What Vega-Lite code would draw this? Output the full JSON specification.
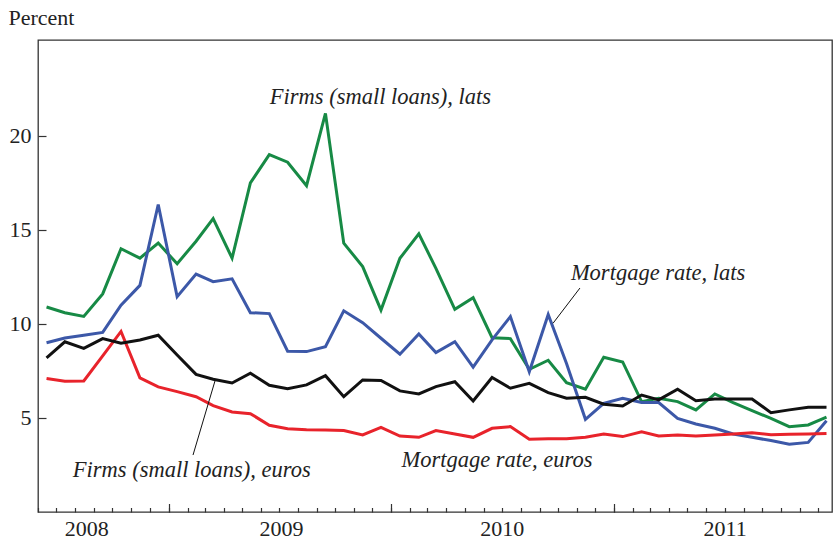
{
  "$schema": "https://vega.github.io/schema/vega-lite/v6.json",
  "width": 794,
  "height": 472,
  "autosize": "none",
  "padding": {"left": 38, "top": 40, "right": 3, "bottom": 29},
  "config": {
    "view": {"stroke": "#333", "strokeWidth": 1.3},
    "font": "Liberation Serif",
    "axis": {"grid": false, "domain": false, "labelFont": "Liberation Serif", "labelFontSize": 22, "labelColor": "#222", "tickColor": "#333", "tickWidth": 1.2, "titleFont": "Liberation Serif"}
  },
  "datasets": {
    "rates": [
      {"date": "2008-06-15", "fl": 10.9, "ml": 9.0, "fe": 8.2, "me": 7.1},
      {"date": "2008-07-15", "fl": 10.6, "ml": 9.25, "fe": 9.05, "me": 6.95},
      {"date": "2008-08-15", "fl": 10.4, "ml": 9.4, "fe": 8.7, "me": 6.97},
      {"date": "2008-09-15", "fl": 11.6, "ml": 9.55, "fe": 9.22, "me": 8.3},
      {"date": "2008-10-15", "fl": 14.0, "ml": 11.0, "fe": 8.97, "me": 9.6},
      {"date": "2008-11-15", "fl": 13.5, "ml": 12.05, "fe": 9.15, "me": 7.13},
      {"date": "2008-12-15", "fl": 14.3, "ml": 16.35, "fe": 9.4, "me": 6.65},
      {"date": "2009-01-15", "fl": 13.2, "ml": 11.45, "fe": 8.35, "me": 6.4},
      {"date": "2009-02-15", "fl": 14.4, "ml": 12.65, "fe": 7.32, "me": 6.13},
      {"date": "2009-03-15", "fl": 15.6, "ml": 12.25, "fe": 7.06, "me": 5.66},
      {"date": "2009-04-15", "fl": 13.5, "ml": 12.4, "fe": 6.86, "me": 5.32},
      {"date": "2009-05-15", "fl": 17.5, "ml": 10.6, "fe": 7.38, "me": 5.23},
      {"date": "2009-06-15", "fl": 19.0, "ml": 10.55, "fe": 6.74, "me": 4.61},
      {"date": "2009-07-15", "fl": 18.6, "ml": 8.55, "fe": 6.56, "me": 4.43},
      {"date": "2009-08-15", "fl": 17.35, "ml": 8.53, "fe": 6.76, "me": 4.38},
      {"date": "2009-09-15", "fl": 21.2, "ml": 8.79, "fe": 7.25, "me": 4.36},
      {"date": "2009-10-15", "fl": 14.3, "ml": 10.7, "fe": 6.13, "me": 4.33},
      {"date": "2009-11-15", "fl": 13.05, "ml": 10.07, "fe": 7.02, "me": 4.1},
      {"date": "2009-12-15", "fl": 10.74, "ml": 9.24, "fe": 6.99, "me": 4.5},
      {"date": "2010-01-15", "fl": 13.49, "ml": 8.39, "fe": 6.44, "me": 4.04},
      {"date": "2010-02-15", "fl": 14.79, "ml": 9.47, "fe": 6.28, "me": 3.97},
      {"date": "2010-03-15", "fl": 12.96, "ml": 8.48, "fe": 6.67, "me": 4.33},
      {"date": "2010-04-15", "fl": 10.78, "ml": 9.06, "fe": 6.93, "me": 4.15},
      {"date": "2010-05-15", "fl": 11.4, "ml": 7.7, "fe": 5.9, "me": 3.97},
      {"date": "2010-06-15", "fl": 9.27, "ml": 9.15, "fe": 7.15, "me": 4.45},
      {"date": "2010-07-15", "fl": 9.22, "ml": 10.39, "fe": 6.58, "me": 4.54},
      {"date": "2010-08-15", "fl": 7.59, "ml": 7.46, "fe": 6.84, "me": 3.87},
      {"date": "2010-09-15", "fl": 8.07, "ml": 10.5, "fe": 6.35, "me": 3.9},
      {"date": "2010-10-15", "fl": 6.88, "ml": 7.9, "fe": 6.05, "me": 3.9},
      {"date": "2010-11-15", "fl": 6.53, "ml": 4.93, "fe": 6.1, "me": 3.97},
      {"date": "2010-12-15", "fl": 8.23, "ml": 5.78, "fe": 5.73, "me": 4.15},
      {"date": "2011-01-15", "fl": 7.98, "ml": 6.05, "fe": 5.64, "me": 4.01},
      {"date": "2011-02-15", "fl": 5.87, "ml": 5.82, "fe": 6.22, "me": 4.27},
      {"date": "2011-03-15", "fl": 6.05, "ml": 5.82, "fe": 5.96, "me": 4.04},
      {"date": "2011-04-15", "fl": 5.87, "ml": 4.98, "fe": 6.53, "me": 4.1},
      {"date": "2011-05-15", "fl": 5.43, "ml": 4.68, "fe": 5.92, "me": 4.04},
      {"date": "2011-06-15", "fl": 6.28, "ml": 4.45, "fe": 6.01, "me": 4.1},
      {"date": "2011-07-15", "fl": 5.82, "ml": 4.15, "fe": 6.01, "me": 4.15},
      {"date": "2011-08-15", "fl": 5.39, "ml": 3.97, "fe": 6.01, "me": 4.22},
      {"date": "2011-09-15", "fl": 4.98, "ml": 3.8, "fe": 5.28, "me": 4.11},
      {"date": "2011-10-15", "fl": 4.54, "ml": 3.6, "fe": 5.43, "me": 4.13},
      {"date": "2011-11-15", "fl": 4.63, "ml": 3.7, "fe": 5.57, "me": 4.15},
      {"date": "2011-12-15", "fl": 5.04, "ml": 4.85, "fe": 5.57, "me": 4.18}
    ],
    "notes": [
      {"date": "2009-12-14", "value": 21.7, "label": "Firms (small loans), lats"},
      {"date": "2011-03-14", "value": 12.34, "label": "Mortgage rate, lats"},
      {"date": "2009-02-08", "value": 1.88, "label": "Firms (small loans), euros"},
      {"date": "2010-06-23", "value": 2.41, "label": "Mortgage rate, euros"}
    ],
    "pointers": [
      {"d1": "2009-02-10", "d2": "2009-03-18", "v1": 3.03, "v2": 6.97},
      {"d1": "2010-11-06", "d2": "2010-09-23", "v1": 11.91, "v2": 10.04}
    ]
  },
  "layer": [
    {
      "data": {"name": "rates"},
      "transform": [{"fold": ["fl", "ml", "me", "fe"], "as": ["series", "rate"]}],
      "mark": {"type": "line", "strokeWidth": 3, "strokeJoin": "miter"},
      "encoding": {
        "x": {"field": "date", "type": "temporal",
          "scale": {"type": "utc", "domain": [{"year": 2008, "month": 6, "date": 1, "utc": true}, {"year": 2011, "month": 12, "date": 24, "utc": true}]},
          "axis": {"orient": "bottom", "title": null, "labels": false, "tickCount": {"interval": "month", "step": 1}, "tickSize": -4.5}},
        "y": {"field": "rate", "type": "quantitative",
          "scale": {"domain": [0, 25.1], "nice": false, "zero": false},
          "axis": {"title": "Percent", "titleAngle": 0, "titleAlign": "left", "titleBaseline": "alphabetic", "titleX": -30, "titleY": -16, "titleFontSize": 22, "titleFontWeight": "normal", "titleColor": "#222", "values": [5, 10, 15, 20], "tickSize": -8, "labelPadding": 15}},
        "color": {"field": "series", "type": "nominal", "legend": null,
          "scale": {"domain": ["fl", "ml", "me", "fe"], "range": ["#178a45", "#3c58a8", "#e8232b", "#111111"]}}
      }
    },
    {
      "data": {"name": "pointers"},
      "mark": {"type": "rule", "strokeWidth": 1, "color": "#111"},
      "encoding": {
        "x": {"field": "d1", "type": "temporal",
          "scale": {"type": "utc", "domain": [{"year": 2008, "month": 6, "date": 1, "utc": true}, {"year": 2011, "month": 12, "date": 24, "utc": true}]},
          "axis": {"orient": "bottom", "title": null, "labels": false, "tickCount": {"interval": "year", "step": 1}, "tickSize": -8.5}},
        "x2": {"field": "d2"},
        "y": {"field": "v1", "type": "quantitative"},
        "y2": {"field": "v2"}
      }
    },
    {
      "data": {"name": "notes"},
      "mark": {"type": "text", "font": "Liberation Serif", "fontStyle": "italic", "fontSize": 22.5, "color": "#222", "align": "center", "baseline": "alphabetic"},
      "encoding": {
        "x": {"field": "date", "type": "temporal",
          "scale": {"type": "utc", "domain": [{"year": 2008, "month": 6, "date": 1, "utc": true}, {"year": 2011, "month": 12, "date": 24, "utc": true}]},
          "axis": {"orient": "bottom", "title": null, "ticks": false, "format": "%Y", "labelPadding": 6,
            "values": [{"year": 2008, "month": 8, "date": 19, "utc": true}, {"year": 2009, "month": 7, "date": 4, "utc": true}, {"year": 2010, "month": 7, "date": 1, "utc": true}, {"year": 2011, "month": 7, "date": 1, "utc": true}]}},
        "y": {"field": "value", "type": "quantitative"},
        "text": {"field": "label"}
      }
    }
  ],
  "resolve": {"axis": {"x": "independent"}}
}
